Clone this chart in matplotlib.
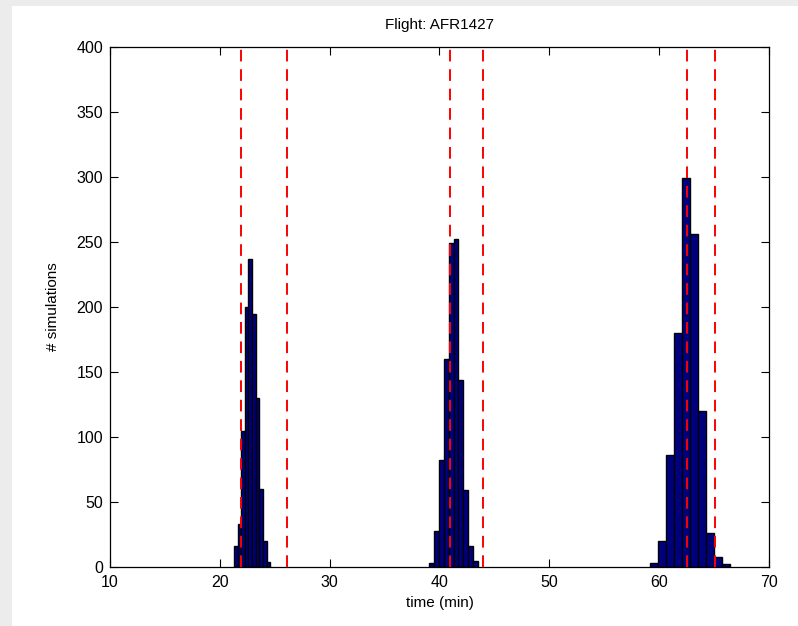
import matplotlib
matplotlib.use("Agg")
import matplotlib.pyplot as plt
from matplotlib.patches import Rectangle

plt.rcParams['font.family'] = ['Liberation Sans', 'DejaVu Sans']

# histogram of arrival times, one block per waypoint (1000 runs each)
centers_1 = [21.45, 21.78, 22.11, 22.44, 22.77, 23.10, 23.43, 23.76, 24.09, 24.42]
counts_1 = [16, 33, 105, 200, 237, 195, 130, 60, 20, 4]
width_1 = 0.33

centers_2 = [39.25, 39.70, 40.15, 40.60, 41.05, 41.50, 41.95, 42.40, 42.85, 43.30]
counts_2 = [3, 28, 82, 160, 249, 252, 144, 59, 16, 5]
width_2 = 0.45

centers_3 = [59.55, 60.28, 61.01, 61.74, 62.47, 63.20, 63.93, 64.66, 65.39, 66.12]
counts_3 = [3, 20, 86, 180, 299, 256, 120, 26, 8, 2]
width_3 = 0.73

# time windows (dashed red)
window_times = [21.9, 26.1, 41.0, 44.0, 62.5, 65.1]

xticks = [10, 20, 30, 40, 50, 60, 70]
yticks = [0, 50, 100, 150, 200, 250, 300, 350, 400]

fig = plt.figure(figsize=(7.98, 6.26), dpi=100, facecolor='#ececec')
fig.patches.append(Rectangle((12 / 798, 0), 1, 620 / 626, transform=fig.transFigure,
                             facecolor='white', edgecolor='none', zorder=-1))
ax = fig.add_axes([110 / 798, 59 / 626, 659 / 798, 520 / 626])
ax.set_zorder(2)

for c, n, w in [(centers_1, counts_1, width_1),
                (centers_2, counts_2, width_2),
                (centers_3, counts_3, width_3)]:
    ax.bar(c, n, width=w, color='#00007f', edgecolor='black', linewidth=1.0, zorder=2)

for t in window_times:
    ax.axvline(t, color='red', linestyle=(0, (6, 4)), linewidth=1.4, zorder=3)

ax.set_xlim(10, 70)
ax.set_ylim(0, 400)
ax.set_xticks(xticks)
ax.set_yticks(yticks)
ax.tick_params(direction='in', length=6, width=0.8, top=True, right=True, labelsize=11.5)
ax.tick_params(axis='x', pad=6)
ax.tick_params(axis='y', pad=5)
for s in ax.spines.values():
    s.set_linewidth(0.9)

ax.set_title('Flight: AFR1427', fontsize=11, pad=13)
ax.set_xlabel('time (min)', fontsize=11, labelpad=4)
ax.set_ylabel('# simulations', fontsize=11, labelpad=12)

fig.savefig('out.png', dpi=100, facecolor=fig.get_facecolor())
